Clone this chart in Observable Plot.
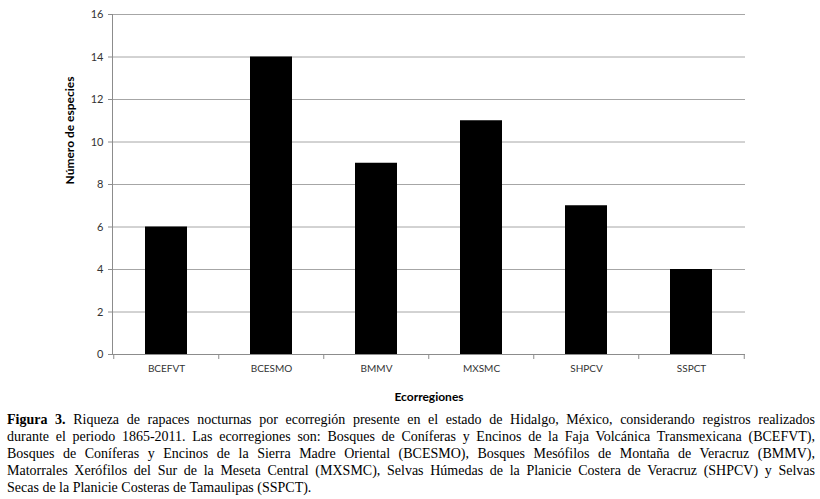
<!DOCTYPE html>
<html>
<head>
<meta charset="utf-8">
<script src="https://cdn.jsdelivr.net/npm/d3@7"></script>
<script src="https://cdn.jsdelivr.net/npm/@observablehq/plot@0.6"></script>
<style>
  body { margin: 0; background: #fff; }
  #chart svg { display: block; }
  .cap { font-family: "Liberation Serif", serif; font-size: 14px; line-height: 17px; color: #000; padding: 0 5px 0 7px; width: 808px; margin-top: 3px; }
  .cap div { text-align: justify; text-align-last: justify; white-space: nowrap; }
  .cap div.last { text-align-last: left; }
</style>
</head>
<body>
<div id="chart"></div>
<div class="cap">
  <div><b>Figura 3.</b> Riqueza de rapaces nocturnas por ecorregión presente en el estado de Hidalgo, México, considerando registros realizados</div>
  <div>durante el periodo 1865-2011. Las ecorregiones son: Bosques de Coníferas y Encinos de la Faja Volcánica Transmexicana (BCEFVT),</div>
  <div>Bosques de Coníferas y Encinos de la Sierra Madre Oriental (BCESMO), Bosques Mesófilos de Montaña de Veracruz (BMMV),</div>
  <div>Matorrales Xerófilos del Sur de la Meseta Central (MXSMC), Selvas Húmedas de la Planicie Costera de Veracruz (SHPCV) y Selvas</div>
  <div class="last">Secas de la Planicie Costeras de Tamaulipas (SSPCT).</div>
</div>
<script>
const categories = ["BCEFVT", "BCESMO", "BMMV", "MXSMC", "SHPCV", "SSPCT"];
const species = [6, 14, 9, 11, 7, 4];
const yTicks = [0, 2, 4, 6, 8, 10, 12, 14, 16];
const xTitle = "Ecorregiones";
const yTitle = "Número de especies";

const data = categories.map((c, i) => ({cat: c, val: species[i]}));

const W = 820, ML = 112, MR = 75;
const step = (W - ML - MR) / categories.length;

const chart = Plot.plot({
  width: W,
  height: 408,
  marginLeft: ML,
  marginRight: MR,
  marginTop: 14,
  marginBottom: 54,
  style: {fontFamily: "Lato, 'Open Sans', sans-serif", fontSize: "11px", color: "#333", background: "#fff"},
  x: {domain: categories, paddingInner: 0.6, paddingOuter: 0.3, label: null},
  y: {domain: [0, 16], label: null},
  marks: [
    Plot.ruleY(yTicks.filter(t => t > 0), {stroke: "#a6a6a6", strokeWidth: 1}),
    Plot.barY(data, {x: "cat", y: "val", fill: "#000"}),
    Plot.ruleY([0], {stroke: "#8c8c8c"}),
    Plot.frame({anchor: "left", stroke: "#8c8c8c"}),
    Plot.axisY({ticks: yTicks, tickSize: 4, tickPadding: 5, stroke: "#8c8c8c", fill: "#333", label: null, fontSize: 11}),
    Plot.axisX({tickSize: 0, tickPadding: 10, fill: "#333", label: null, fontSize: 10}),
    Plot.axisX({tickSize: 5, dx: -step / 2, text: null, stroke: "#8c8c8c", label: null}),
    Plot.axisX({ticks: [categories[categories.length - 1]], tickSize: 5, dx: step / 2, text: null, stroke: "#8c8c8c", label: null}),
    Plot.text([yTitle], {frameAnchor: "left", dx: -42, rotate: -90, fontWeight: "bold", fontSize: 12, fill: "#000"}),
    Plot.text([xTitle], {frameAnchor: "bottom", dy: 46, fontWeight: "bold", fontSize: 12, fill: "#000"})
  ]
});
document.getElementById("chart").appendChild(chart);
</script>
</body>
</html>
